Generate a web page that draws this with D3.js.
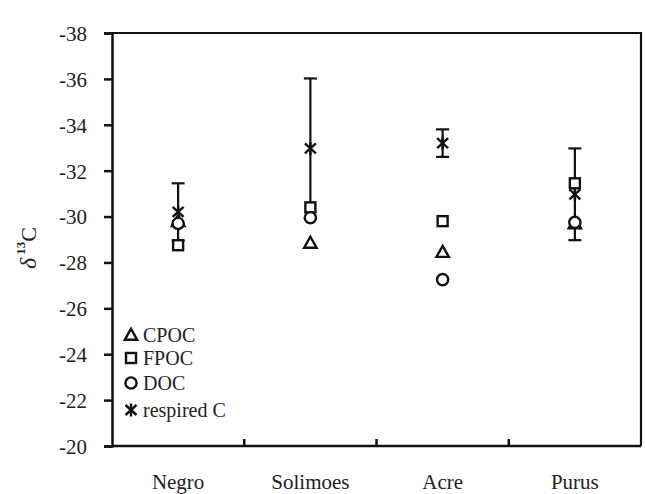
<!DOCTYPE html>
<html>
<head>
<meta charset="utf-8">
<script src="https://cdn.jsdelivr.net/npm/d3@7"></script>
<style>
  html, body { margin: 0; padding: 0; background: #fff; }
  svg { display: block; }
  text { font-family: "Liberation Serif", "Times New Roman", serif; fill: #222; }
</style>
</head>
<body>
<svg id="chart" width="645" height="494"></svg>
<script>
// ---- data ----
const categories = ["Negro", "Solimoes", "Acre", "Purus"];
const cpoc = [-29.8, -28.85, -28.45, -29.7];
const fpoc = [-28.75, -30.4, -29.8, -31.45];
const doc = [-29.7, -29.95, -27.25, -29.75];
const respired = [-30.2, -32.97, -33.2, -30.97];
const respiredErr = [1.25, 3.05, 0.6, 2.0];
const yTicks = [-38, -36, -34, -32, -30, -28, -26, -24, -22, -20];
const legendLabels = ["CPOC", "FPOC", "DOC", "respired C"];

// ---- layout ----
const svg = d3.select("#chart");
const pL = 112, pR = 641, pT = 33, pB = 446;
const x = d3.scaleBand().domain(categories).range([pL, pR]);
const y = d3.scaleLinear().domain([-38, -20]).range([pT, pB]);
const ink = "#111";

// frame (top & right)
svg.append("path")
  .attr("d", `M${pL},${pT}H${pR}V${pB}`)
  .attr("fill", "none").attr("stroke", ink).attr("stroke-width", 2.2);

// y axis
const yAxis = svg.append("g").attr("transform", `translate(${pL},0)`)
  .call(d3.axisLeft(y).tickValues(yTicks).tickFormat(d3.format("d")).tickSize(8).tickPadding(17));
yAxis.select(".domain").attr("stroke", ink).attr("stroke-width", 2.5);
yAxis.selectAll(".tick line").attr("stroke", ink).attr("stroke-width", 2.5);
yAxis.selectAll(".tick text").attr("font-size", 21).attr("fill", "#222")
  .attr("font-family", "Liberation Serif, Times New Roman, serif")
  .attr("dy", "0.35em").text(d => String(d));

// x axis: boundary ticks pointing inward, labels at band centers
const xg = svg.append("g");
xg.append("line").attr("x1", pL).attr("x2", pR).attr("y1", pB).attr("y2", pB)
  .attr("stroke", ink).attr("stroke-width", 2.5);
xg.selectAll("line.bt").data(categories.slice(1)).join("line").attr("class", "bt")
  .attr("x1", d => x(d)).attr("x2", d => x(d))
  .attr("y1", pB).attr("y2", pB - 7)
  .attr("stroke", ink).attr("stroke-width", 2.5);
xg.selectAll("text").data(categories).join("text")
  .attr("x", d => x(d) + x.bandwidth() / 2).attr("y", pB + 43)
  .attr("text-anchor", "middle").attr("font-size", 21).text(d => d);

// y label
const yl = svg.append("text")
  .attr("transform", "translate(36,248) rotate(-90)")
  .attr("text-anchor", "middle").attr("font-size", 22);
yl.append("tspan").attr("font-style", "italic").attr("font-size", 24).text("δ");
yl.append("tspan").attr("font-size", 13).attr("font-weight", "bold").attr("dy", -11).attr("dx", 3).text("13");
yl.append("tspan").attr("dy", 11).text("C");

// marker drawing
const sw = 2.4;
function drawMarker(g, type) {
  if (type === 0) {
    g.append("path").attr("d", "M0,-6.2L6.2,4.8L-6.2,4.8Z");
  } else if (type === 1) {
    g.append("rect").attr("x", -5).attr("y", -5).attr("width", 10).attr("height", 10);
  } else if (type === 2) {
    g.append("circle").attr("r", 5.6);
  } else {
    g.append("path").attr("d", "M-5.5,-5L5.5,5M-5.5,5L5.5,-5M0,-6.5V6.5");
  }
  g.selectAll("*").attr("fill", type === 3 ? "none" : "#fff")
    .attr("stroke", ink).attr("stroke-width", sw);
}

const cx = d => x(d) + x.bandwidth() / 2;

// error bars for respired C
const eb = svg.append("g");
categories.forEach((c, i) => {
  const y1 = y(respired[i] - respiredErr[i]), y2 = y(respired[i] + respiredErr[i]);
  const g = eb.append("g").attr("stroke", ink).attr("stroke-width", 2.2);
  g.append("line").attr("x1", cx(c)).attr("x2", cx(c)).attr("y1", y1).attr("y2", y2);
  g.append("line").attr("x1", cx(c) - 6.5).attr("x2", cx(c) + 6.5).attr("y1", y1).attr("y2", y1);
  g.append("line").attr("x1", cx(c) - 6.5).attr("x2", cx(c) + 6.5).attr("y1", y2).attr("y2", y2);
});

// series markers
const series = [cpoc, fpoc, doc];
const mk = svg.append("g");
series.forEach((vals, t) => {
  categories.forEach((c, i) => {
    drawMarker(mk.append("g").attr("transform", `translate(${cx(c)},${y(vals[i])})`), t);
  });
});
categories.forEach((c, i) => {
  drawMarker(mk.append("g").attr("transform", `translate(${cx(c)},${y(respired[i])})`), 3);
});

// legend
const lg = svg.append("g");
const legY = [335, 358, 383, 410];
legendLabels.forEach((lab, i) => {
  drawMarker(lg.append("g").attr("transform", `translate(131,${legY[i]})`), i);
  lg.append("text").attr("x", 143).attr("y", legY[i] + 7).attr("font-size", 20).text(lab);
});
</script>
</body>
</html>
